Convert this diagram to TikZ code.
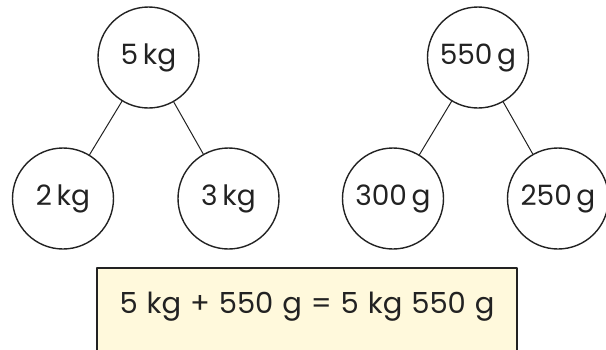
\documentclass[tikz,border=0pt]{standalone}
\usepackage{fontspec}
\setmainfont{Poppins}
\newfontfamily\sumfont{Poppins}[WordSpace=1.15]
\definecolor{notefill}{HTML}{FFF9DC}
\definecolor{inkgray}{HTML}{222222}
\tikzset{
  bondcirc/.style={circle,draw=inkgray,line width=1.4pt,minimum size=101pt,inner sep=0pt,font=\fontsize{28}{30}\selectfont,text=inkgray},
  bondline/.style={draw=inkgray,line width=1pt}
}
\begin{document}
\begin{tikzpicture}[line cap=round,line join=round,x=1pt,y=-1pt]
  \useasboundingbox (0,0) rectangle (606,349);
  % mass in kilograms
  \node[bondcirc] (kgw) at (148.5,57.5) {5\,kg};
  \node[bondcirc] (kga) at (63,198.5) {2\,kg};
  \node[bondcirc] (kgb) at (228.5,198.5) {3\,kg};
  % mass in grams
  \node[bondcirc] (gw) at (478,57.5) {550\,g};
  \node[bondcirc] (ga) at (393,198.5) {300\,g};
  \node[bondcirc] (gb) at (558,198.5) {250\,g};
  \foreach \w/\p in {kgw/kga,kgw/kgb,gw/ga,gw/gb} {
    \draw[bondline] (\w) -- (\p);
  }
  % sum
  \node[draw=inkgray,fill=notefill,line width=1.2pt,minimum width=420pt,minimum height=100pt] (sum) at (307,318) {};
  \node[text=inkgray,font=\sumfont\fontsize{29}{31}\selectfont] (sumtext) at (307,307) {5 kg + 550 g = 5 kg 550 g};
\end{tikzpicture}
\end{document}
